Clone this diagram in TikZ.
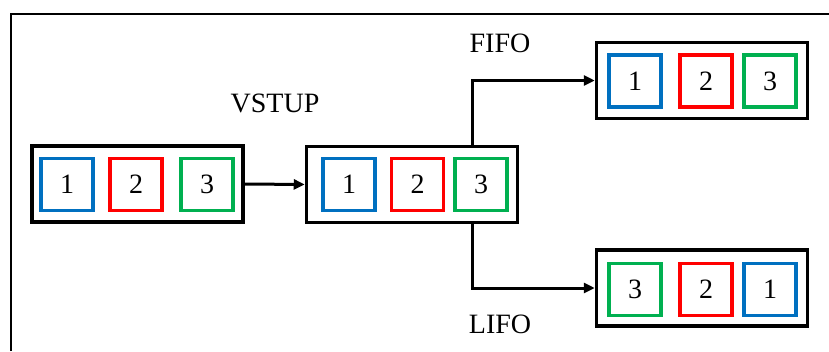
\documentclass[tikz,border=0pt]{standalone}
\usepackage{fontspec}
\setmainfont{Liberation Serif}
\usetikzlibrary{arrows.meta, positioning}
\definecolor{itemblue}{HTML}{0070C0}
\definecolor{itemred}{HTML}{FF0000}
\definecolor{itemgreen}{HTML}{00B050}
\tikzset{
  queue/.style={draw=black, line width=3.5pt, minimum width=211pt,
    minimum height=76pt, inner sep=0pt},
  item/.style={draw, line width=3.2pt, minimum width=52pt, minimum height=52pt,
    inner sep=0pt, font=\fontsize{28}{30}\selectfont},
  label/.style={inner sep=0pt, font=\fontsize{28}{30}\selectfont},
  flow/.style={-{Triangle[length=11pt,width=10pt]}, line width=3pt}
}
\begin{document}
\begin{tikzpicture}[x=1pt, y=1pt]
  \useasboundingbox (0,0) rectangle (829,-351);
  % frame
  \draw[line width=2.5pt] (11,-351) -- (11,-14) -- (829,-14);

  % input queue
  \node[queue] (input) at (137.5,-184) {};
  \node[item, draw=itemblue]  (in1) at (67,-184.5)  {1};
  \node[item, draw=itemred]   (in2) at (136,-184.5) {2};
  \node[item, draw=itemgreen] (in3) at (207,-184.5) {3};

  % buffer
  \node[queue] (buffer) at (412,-184.5) {};
  \node[item, draw=itemblue]  (buf1) at (349,-184.5)   {1};
  \node[item, draw=itemred]   (buf2) at (417.5,-184.5) {2};
  \node[item, draw=itemgreen] (buf3) at (481,-184.5)   {3};

  % FIFO output
  \node[queue] (fifo) at (702,-80.5) {};
  \node[item, draw=itemblue]  (fifo1) at (635,-81) {1};
  \node[item, draw=itemred]   (fifo2) at (706,-81) {2};
  \node[item, draw=itemgreen] (fifo3) at (770,-81) {3};

  % LIFO output
  \node[queue] (lifo) at (702,-288) {};
  \node[item, draw=itemgreen] (lifo3) at (635,-289.5) {3};
  \node[item, draw=itemred]   (lifo2) at (706,-289.5) {2};
  \node[item, draw=itemblue]  (lifo1) at (770,-289.5) {1};

  \node[label] (vstup) at (275,-103) {VSTUP};
  \node[label] (fifolbl) at (500,-43.5) {FIFO};
  \node[label] (lifolbl) at (500,-324) {LIFO};

  \draw[flow] (input.east) -- (buffer.west);
  \draw[flow] ([xshift=60pt]buffer.north) |- (fifo.west);
  \draw[flow] ([xshift=60pt]buffer.south) |- (lifo.west);
\end{tikzpicture}
\end{document}
